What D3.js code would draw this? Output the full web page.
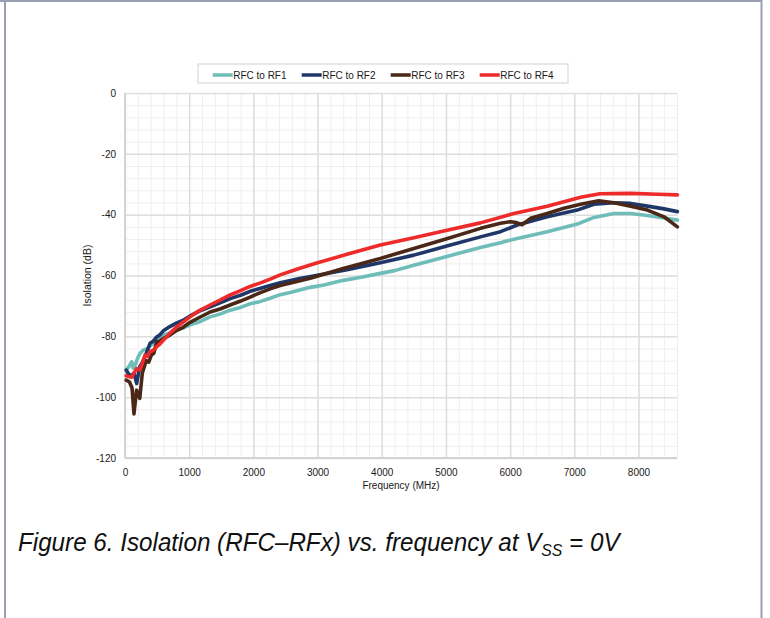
<!DOCTYPE html>
<html>
<head>
<meta charset="utf-8">
<script src="https://cdn.jsdelivr.net/npm/d3@7"></script>
<style>
  html, body { margin: 0; padding: 0; background: #fff; }
  svg { display: block; }
</style>
</head>
<body>
<div id="chart"></div>
<script>
const seriesNames = ['RFC to RF1', 'RFC to RF2', 'RFC to RF3', 'RFC to RF4']
const seriesColors = ['#6fbdb9', '#1f3768', '#4a2716', '#ee2a2a']

const xTicks = [0, 1000, 2000, 3000, 4000, 5000, 6000, 7000, 8000]
const yTicks = [0, -20, -40, -60, -80, -100, -120]

// [frequency MHz, isolation dB]
const rf1 = [
  [20, -91], [60, -90], [104, -88.4], [130, -90.5], [156, -89.6], [200, -87], [234, -85.6],
  [286, -84.5], [340, -84.2], [390, -83.2], [440, -82.3], [494, -80.9], [540, -80.6],
  [597, -79.6], [700, -78.9], [807, -77.8], [900, -77.3], [1014, -76.2], [1150, -75.3],
  [1326, -73.6], [1480, -72.7], [1638, -71.4], [1800, -70.5], [1950, -69.3], [2100, -68.6],
  [2262, -67.5], [2418, -66.3], [2574, -65.6], [2886, -63.9], [3100, -63.1], [3400, -61.6],
  [3700, -60.5], [3978, -59.3], [4200, -58.4], [4500, -56.6], [5000, -53.8], [5538, -50.8],
  [5850, -49.2], [6110, -47.8], [6578, -45.6], [7046, -43.1], [7306, -40.9], [7618, -39.6],
  [7878, -39.6], [8138, -40.3], [8398, -41.1], [8606, -41.8]
]
const rf2 = [
  [20, -91.1], [60, -92.5], [100, -93], [140, -92], [182, -95.5], [230, -90], [260, -89],
  [312, -86.7], [390, -82.3], [440, -81.6], [494, -80.2], [540, -79.6], [597, -78.2],
  [700, -76.8], [807, -75.6], [900, -74.8], [1014, -73.3], [1150, -71.8], [1326, -70.3],
  [1480, -69], [1638, -67.6], [1800, -66.5], [1950, -65.2], [2100, -64.3], [2262, -63.3],
  [2418, -62.4], [2700, -61.1], [3000, -59.9], [3500, -57.9], [3978, -55.8], [4500, -53.3],
  [5000, -50.4], [5538, -47.3], [5850, -45.6], [6110, -43.4], [6578, -40.7], [7046, -38.5],
  [7306, -36.6], [7618, -36.1], [7878, -36.3], [8138, -37.2], [8398, -38.1], [8606, -39]
]
const rf3 = [
  [20, -94.4], [70, -95], [110, -97], [140, -105.5], [180, -97.7], [230, -100.4], [270, -92],
  [330, -88], [370, -88.5], [410, -86.2], [450, -85.5], [494, -81.8], [540, -81.6],
  [600, -80.7], [700, -79.6], [807, -78], [900, -77.1], [1014, -75.4], [1150, -73.9],
  [1326, -72], [1480, -71], [1638, -69.7], [1800, -68.4], [1950, -67.1], [2100, -65.7],
  [2262, -64.4], [2418, -63.3], [2886, -60.9], [3400, -57.7], [3978, -54.4], [4500, -51.1],
  [5000, -48], [5538, -44.5], [5850, -42.8], [6006, -42.3], [6100, -42.6], [6186, -43.3],
  [6318, -41.2], [6578, -39.6], [6838, -37.9], [7098, -36.6], [7379, -35.4], [7618, -36.1],
  [7878, -37.2], [8138, -38.5], [8398, -40.7], [8606, -44]
]
const rf4 = [
  [20, -93], [100, -93.5], [182, -90.6], [230, -91], [260, -89.5], [312, -86.2], [350, -86.6],
  [390, -85], [440, -84.6], [494, -83.4], [540, -82.6], [597, -81.3], [700, -79],
  [807, -76.9], [900, -75.4], [1014, -73.6], [1150, -71.6], [1326, -69.7], [1480, -68.1],
  [1638, -66.4], [1800, -65], [1950, -63.6], [2100, -62.5], [2262, -61.2], [2418, -59.8],
  [2700, -57.8], [3000, -55.8], [3500, -52.8], [3978, -50], [4500, -47.6], [5000, -45.2],
  [5538, -42.7], [6058, -39.6], [6578, -37.2], [7098, -34.3], [7400, -33.1], [7878, -33],
  [8300, -33.3], [8606, -33.5]
]
const seriesData = [rf1, rf2, rf3, rf4]

const width = 770
const height = 618
const plot = { left: 125, right: 677, top: 93, bottom: 458 }

const svg = d3
  .select('#chart')
  .append('svg')
  .attr('width', width)
  .attr('height', height)
  .attr('font-family', '"Liberation Sans", Arial, sans-serif')

// page frame
svg.append('line').attr('x1', 0).attr('x2', 762).attr('y1', 1).attr('y2', 1)
  .attr('stroke', '#9a9eb3').attr('stroke-width', 2)
svg.append('line').attr('x1', 5).attr('x2', 5).attr('y1', 0).attr('y2', height)
  .attr('stroke', '#9a9eb3').attr('stroke-width', 2)
svg.append('line').attr('x1', 761.5).attr('x2', 761.5).attr('y1', 0).attr('y2', height)
  .attr('stroke', '#9a9eb3').attr('stroke-width', 2)

const x = d3.scaleLinear().domain([0, 8600]).range([plot.left, plot.right])
const y = d3.scaleLinear().domain([-120, 0]).range([plot.bottom, plot.top])

const pw = plot.right - plot.left
const ph = plot.bottom - plot.top

// minor grid
svg.append('g')
  .attr('transform', `translate(0, ${plot.bottom})`)
  .call(d3.axisBottom(x).tickValues(d3.range(0, 8601, 200)).tickSizeInner(-ph).tickFormat(''))
  .call(g => g.selectAll('line').attr('stroke', '#efefef').attr('stroke-width', 1))
  .call(g => g.select('.domain').remove())
svg.append('g')
  .attr('transform', `translate(${plot.left}, 0)`)
  .call(d3.axisLeft(y).tickValues(d3.range(-120, 1, 4)).tickSizeInner(-pw).tickFormat(''))
  .call(g => g.selectAll('line').attr('stroke', '#efefef').attr('stroke-width', 1))
  .call(g => g.select('.domain').remove())

// major grid
svg.append('g')
  .attr('transform', `translate(0, ${plot.bottom})`)
  .call(d3.axisBottom(x).tickValues(xTicks).tickSizeInner(-ph).tickFormat(''))
  .call(g => g.selectAll('line').attr('stroke', '#dedede').attr('stroke-width', 1.5))
  .call(g => g.select('.domain').remove())
svg.append('g')
  .attr('transform', `translate(${plot.left}, 0)`)
  .call(d3.axisLeft(y).tickValues(yTicks).tickSizeInner(-pw).tickFormat(''))
  .call(g => g.selectAll('line').attr('stroke', '#dedede').attr('stroke-width', 1.5))
  .call(g => g.select('.domain').remove())

// axis lines
svg.append('line').attr('x1', plot.left).attr('x2', plot.left).attr('y1', plot.top).attr('y2', plot.bottom)
  .attr('stroke', '#d4d4d4').attr('stroke-width', 2)
svg.append('line').attr('x1', plot.left).attr('x2', plot.right).attr('y1', plot.bottom).attr('y2', plot.bottom)
  .attr('stroke', '#d4d4d4').attr('stroke-width', 2)

// tick labels (plain hyphen minus, as in the source)
svg.append('g')
  .attr('transform', `translate(0, ${plot.bottom})`)
  .call(d3.axisBottom(x).tickValues(xTicks).tickSize(0).tickPadding(11).tickFormat(d => String(d)))
  .call(g => g.select('.domain').remove())
  .call(g => g.selectAll('text').attr('font-size', 10).attr('fill', '#1a1a1a')
    .attr('font-family', '"Liberation Sans", Arial, sans-serif'))
svg.append('g')
  .attr('transform', `translate(${plot.left}, 0)`)
  .call(d3.axisLeft(y).tickValues(yTicks).tickSize(0).tickPadding(9).tickFormat(d => String(d)))
  .call(g => g.select('.domain').remove())
  .call(g => g.selectAll('text').attr('font-size', 10).attr('fill', '#1a1a1a')
    .attr('font-family', '"Liberation Sans", Arial, sans-serif'))

svg.append('text')
  .attr('x', (plot.left + plot.right) / 2)
  .attr('y', 489)
  .attr('text-anchor', 'middle')
  .attr('font-size', 10)
  .attr('fill', '#1a1a1a')
  .text('Frequency (MHz)')

svg.append('text')
  .attr('transform', `translate(91, ${(plot.top + plot.bottom) / 2}) rotate(-90)`)
  .attr('text-anchor', 'middle')
  .attr('font-size', 10.5)
  .attr('fill', '#1a1a1a')
  .text('Isolation (dB)')

// series
const line = d3.line().x(d => x(d[0])).y(d => y(d[1]))
svg.append('g')
  .selectAll('path')
  .data(seriesData)
  .join('path')
  .attr('fill', 'none')
  .attr('stroke', (d, i) => seriesColors[i])
  .attr('stroke-width', 3.6)
  .attr('stroke-linejoin', 'round')
  .attr('stroke-linecap', 'round')
  .attr('d', line)

// legend
const legend = svg.append('g')
legend.append('rect')
  .attr('x', 198).attr('y', 64).attr('width', 370).attr('height', 19)
  .attr('fill', '#fff').attr('stroke', '#d9d9d9').attr('stroke-width', 1.2)
const item = legend.selectAll('g.item')
  .data(seriesNames)
  .join('g')
  .attr('class', 'item')
  .attr('transform', (d, i) => `translate(${212.7 + i * 89}, 75)`)
item.append('line')
  .attr('x1', 0).attr('x2', 20).attr('y1', 0).attr('y2', 0)
  .attr('stroke', (d, i) => seriesColors[i])
  .attr('stroke-width', 3.5)
item.append('text')
  .attr('x', 20.5).attr('y', 0).attr('dy', '0.35em')
  .attr('font-size', 10)
  .attr('fill', '#1a1a1a')
  .text(d => d)

// caption, squeezed horizontally to the narrow look of the original
const cap = svg.append('text')
  .attr('x', 0)
  .attr('y', 0)
  .attr('font-size', 26)
  .attr('font-style', 'italic')
  .attr('fill', '#111')
cap.append('tspan').text('Figure 6. Isolation (RFC\u2013RFx) vs. frequency at V')
cap.append('tspan').attr('font-size', 17).attr('dy', 5).text('SS')
cap.append('tspan').attr('dy', -5).text(' = 0V')
const capW = cap.node().getComputedTextLength()
cap.attr('transform', `translate(18, 551) scale(${602 / capW}, 1)`)
</script>
</body>
</html>
